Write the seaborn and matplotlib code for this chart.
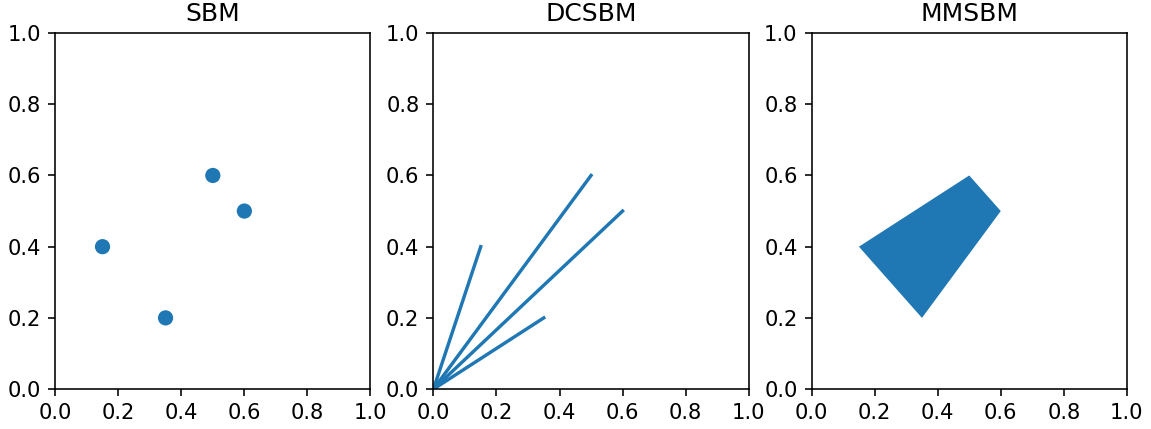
import matplotlib
matplotlib.use("Agg")
import matplotlib.pyplot as plt
import seaborn as sns
import pandas as pd

titles = ["SBM", "DCSBM", "MMSBM"]
xs = [0.15, 0.35, 0.5, 0.6]
ys = [0.4, 0.2, 0.6, 0.5]
# polygon vertex order for the MMSBM panel
poly_order = [0, 2, 3, 1]

color = "#1f77b4"

fig, axes = plt.subplots(1, 3, figsize=(1151 / 144, 429 / 144), dpi=144)
fig.subplots_adjust(left=0.048, right=0.979, top=0.923, bottom=0.093, wspace=0.2)

pts = pd.DataFrame({"x": xs, "y": ys})
sns.scatterplot(data=pts, x="x", y="y", ax=axes[0], s=58, color=color, edgecolor="none")

# rays from the origin
seg = pd.DataFrame({
    "x": [v for x in xs for v in (0, x)],
    "y": [v for y in ys for v in (0, y)],
    "id": [i for i in range(len(xs)) for _ in range(2)],
})
sns.lineplot(data=seg, x="x", y="y", units="id", estimator=None, sort=False,
             ax=axes[1], color=color, linewidth=1.7)

axes[2].fill([xs[i] for i in poly_order], [ys[i] for i in poly_order], color=color, lw=0)

for ax, t in zip(axes, titles):
    ax.set_xlim(0, 1)
    ax.set_ylim(0, 1)
    ax.set_title(t, fontsize=12.5)
    ax.tick_params(labelsize=10.5)
    ax.set_xlabel("")
    ax.set_ylabel("")

plt.savefig("out.png", dpi=144)
